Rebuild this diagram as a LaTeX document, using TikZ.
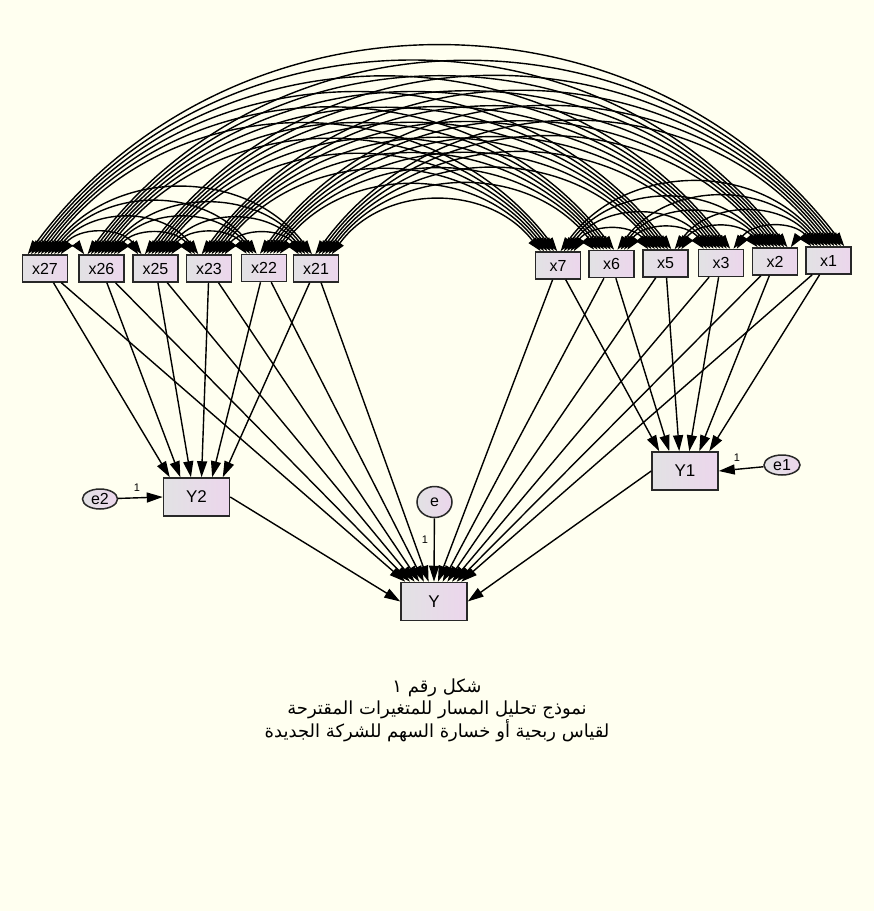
\documentclass[tikz,border=0pt]{standalone}
\usepackage{fontspec}
\setmainfont{Liberation Sans}
\newfontfamily\arabicfont[Script=Arabic]{DejaVu Sans}
\TeXXeTstate=1
\usetikzlibrary{arrows.meta,shapes.geometric,calc}
\definecolor{bg}{RGB}{255,255,240}
\definecolor{boxL}{RGB}{226,226,228}
\definecolor{boxR}{RGB}{236,214,236}
\definecolor{edgec}{RGB}{40,40,40}
\begin{document}
\begin{tikzpicture}[x=1pt,y=-1pt,
  obs/.style={draw=edgec,line width=1.5pt,left color=boxL,right color=boxR,minimum width=45pt,minimum height=27pt,inner sep=0pt,font=\fontsize{16}{16}\selectfont},
  endo/.style={obs,minimum width=66pt,minimum height=38pt,font=\fontsize{17}{17}\selectfont},
  err/.style={ellipse,draw=edgec,line width=1.5pt,left color=boxL,right color=boxR,inner sep=0pt,font=\fontsize{16}{16}\selectfont},
  reg/.style={line width=1.4pt,-{Triangle[length=16pt,width=10pt]}},
  cov/.style={line width=1.4pt,{Triangle[length=14pt,width=9pt]}-{Triangle[length=14pt,width=9pt]}},
  wt/.style={font=\fontsize{11}{11}\selectfont,inner sep=0pt}]
\fill[bg] (0,0) rectangle (874,911);
\useasboundingbox (0,0) rectangle (874,911);
% observed exogenous variables
\node[obs] (n0) at (45,268.5) {x27};
\node[obs] (n1) at (101.5,268.5) {x26};
\node[obs] (n2) at (155.5,268.5) {x25};
\node[obs] (n3) at (209,268.5) {x23};
\node[obs] (n4) at (264,268) {x22};
\node[obs] (n5) at (316,268.5) {x21};
\node[obs] (n6) at (558,265.5) {x7};
\node[obs] (n7) at (611.5,264) {x6};
\node[obs] (n8) at (665.5,263.5) {x5};
\node[obs] (n9) at (721,263) {x3};
\node[obs] (n10) at (775,261.5) {x2};
\node[obs] (n11) at (828.5,260.5) {x1};
% endogenous
\node[endo] (Y2) at (196.5,497) {Y2};
\node[endo] (Y) at (434,601.5) {Y};
\node[endo] (Y1) at (685,471) {Y1};
% errors
\node[err,minimum width=35pt,minimum height=20pt] (e2) at (100,499) {e2};
\node[err,minimum width=35pt,minimum height=31pt] (e) at (434.5,502) {e};
\node[err,minimum width=36pt,minimum height=20pt] (e1) at (782,465) {e1};
% covariance end points
\foreach \i in {0,...,11}{
  \foreach \j in {0,...,11}{
    \ifnum\i=\j\relax\else
      \pgfmathtruncatemacro\k{\j<\i ? \i-1-\j : \i+11-\j}
      \coordinate (a-\i-\j) at ([xshift={6+\k*3.3}]n\i.north west);
    \fi
  }
}
% covariances
\foreach \i in {0,...,10}{
  \pgfmathtruncatemacro\s{\i+1}
  \foreach \j in {\s,...,11}{
    \draw[cov] (a-\i-\j) to[bend left=53,looseness=1.06] (a-\j-\i);
  }
}
% paths to Y2 and Y1
\foreach \m in {0,...,5}{
  \coordinate (t2-\m) at ([xshift={7+\m*10.6}]Y2.north west);
  \draw[reg] (n\m) -- (t2-\m);
  \pgfmathtruncatemacro\r{\m+6}
  \coordinate (t1-\m) at ([xshift={8+\m*10}]Y1.north west);
  \draw[reg] (n\r) -- (t1-\m);
}
% paths to Y
\foreach \m in {0,...,5}{
  \coordinate (tY-\m) at ([xshift={5+\m*4.67}]Y.north west);
  \draw[reg] (n\m) -- (tY-\m);
  \pgfmathtruncatemacro\r{\m+6}
  \pgfmathtruncatemacro\sl{\m+7}
  \coordinate (tY-\sl) at ([xshift={5+\sl*4.67}]Y.north west);
  \draw[reg] (n\r) -- (tY-\sl);
}
\coordinate (tY-6) at (Y.north);
\draw[reg] (e) -- (tY-6);
\draw[reg] (Y2.east) -- (Y.west);
\draw[reg] (Y1.west) -- (Y.east);
\draw[reg] (e2) -- (Y2.west);
\draw[reg] (e1) -- (Y1.east);
\node[wt] (w2) at (137,488) {1};
\node[wt] (w0) at (425,540) {1};
\node[wt] (w1) at (737,458) {1};
% caption
\node[font=\arabicfont\fontsize{18}{22.5}\selectfont,align=center] (cap) at (437,710)
  {\beginR شكل رقم ١\endR\\
   \beginR نموذج تحليل المسار للمتغيرات المقترحة\endR\\
   \beginR لقياس ربحية أو خسارة السهم للشركة الجديدة\endR};
\end{tikzpicture}
\end{document}
